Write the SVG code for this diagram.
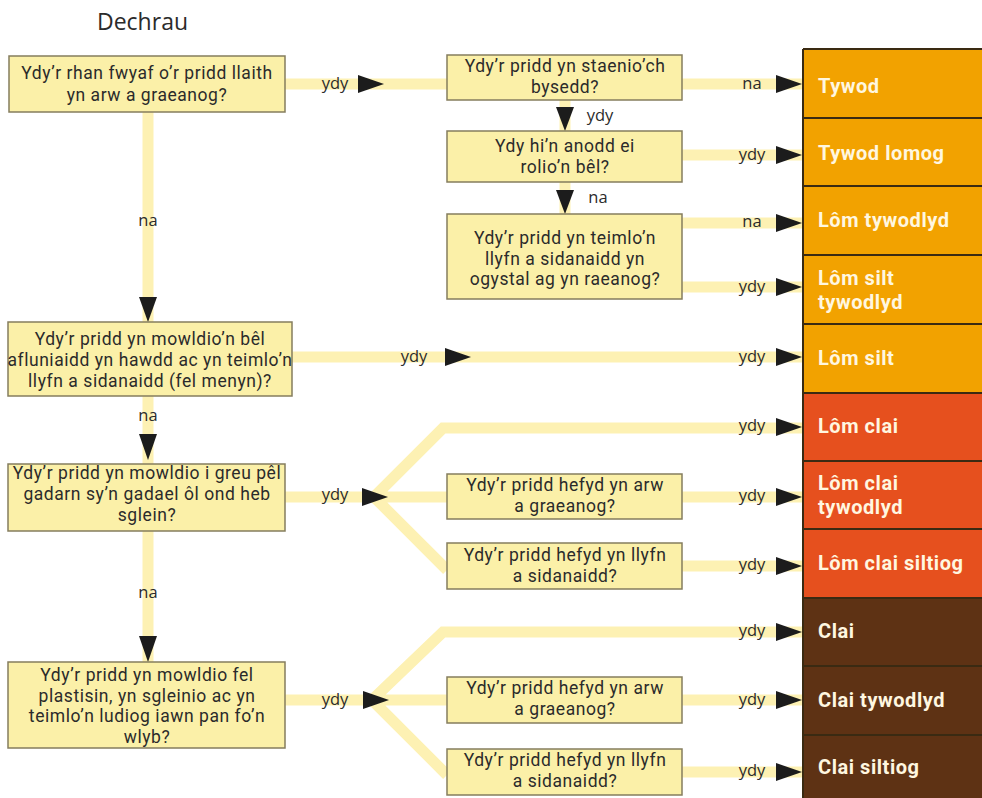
<svg xmlns="http://www.w3.org/2000/svg" width="982" height="798" viewBox="0 0 982 798">
<style>
.box{fill:#fbf0a8;stroke:#857d5e;stroke-width:1.5}
.q{font-family:Roboto,"Open Sans",sans-serif;font-size:17.5px;letter-spacing:0.55px;fill:#2b2b2b;text-anchor:middle}
.lab{font-family:"Open Sans","Noto Sans",sans-serif;font-size:16.5px;fill:#2b2b2b;text-anchor:middle}
.con{fill:none;stroke:#fdf1b3;stroke-width:11;stroke-linejoin:miter}
.arr{fill:#1c1c1c}
.res{font-family:Roboto,"Open Sans",sans-serif;font-size:20px;letter-spacing:0.55px;font-weight:bold;fill:#fff7e0}
.sep{stroke:#3a2a12;stroke-width:2}
</style>
<rect width="982" height="798" fill="#ffffff"/>
<text x="97" y="30" font-family="Open Sans, Noto Sans, sans-serif" font-size="23" fill="#2b2b2b">Dechrau</text>

<g id="connectors">
<path class="con" d="M285,84 H447 M682,84 H803 M565,100 V131 M682,155 H803 M565,182 V214 M682,223 H803 M682,287 H803 M148,112 V322 M292,357 H803 M148,396 V464 M285,497 H447 M374,497 L443,428 H803 M374,497 L447,570 M682,497 H803 M682,566 H803 M148,531 V662 M285,700 H447 M372,700 L443,632 H803 M372,700 L447,775 M682,700 H803 M682,772 H803"/>
<g class="arr">
<polygon points="358,75 384,84 358,93"/>
<polygon points="776,75 802,84 776,93"/>
<polygon points="556,107 574,107 565,131"/>
<polygon points="776,146 802,155 776,164"/>
<polygon points="556,190 574,190 565,214"/>
<polygon points="776,214 802,223 776,232"/>
<polygon points="776,278 802,287 776,296"/>
<polygon points="139,297 157,297 148,322"/>
<polygon points="445,348 471,357 445,366"/>
<polygon points="776,348 802,357 776,366"/>
<polygon points="139,434 157,434 148,460"/>
<polygon points="362,488 388,497 362,506"/>
<polygon points="776,418 802,427 776,436"/>
<polygon points="776,488 802,497 776,506"/>
<polygon points="776,557 802,566 776,575"/>
<polygon points="139,636 157,636 148,662"/>
<polygon points="363,691 389,700 363,709"/>
<polygon points="776,623 802,632 776,641"/>
<polygon points="776,691 802,700 776,709"/>
<polygon points="776,763 802,772 776,781"/>
</g>
<g class="lab">
<text x="335" y="89">ydy</text>
<text x="752" y="89">na</text>
<text x="600" y="121">ydy</text>
<text x="752" y="160">ydy</text>
<text x="598" y="203">na</text>
<text x="752" y="227">na</text>
<text x="752" y="292">ydy</text>
<text x="148" y="226">na</text>
<text x="414" y="362">ydy</text>
<text x="752" y="362">ydy</text>
<text x="148" y="421">na</text>
<text x="335" y="500">ydy</text>
<text x="752" y="431">ydy</text>
<text x="752" y="501">ydy</text>
<text x="752" y="570">ydy</text>
<text x="148" y="598">na</text>
<text x="335" y="705">ydy</text>
<text x="752" y="636">ydy</text>
<text x="752" y="705">ydy</text>
<text x="752" y="776">ydy</text>
</g>
</g>

<g id="q1"><rect class="box" x="9" y="56" width="276" height="56"/><text class="q" x="147" y="79">Ydy’r rhan fwyaf o’r pridd llaith<tspan x="147" dy="22">yn arw a graeanog?</tspan></text></g>
<g id="q2"><rect class="box" x="447" y="55" width="235" height="45"/><text class="q" x="565" y="72">Ydy’r pridd yn staenio’ch<tspan x="565" dy="20.6">bysedd?</tspan></text></g>
<g id="q3"><rect class="box" x="447" y="131" width="235" height="51"/><text class="q" x="565" y="152">Ydy hi’n anodd ei<tspan x="565" dy="20.6">rolio’n bêl?</tspan></text></g>
<g id="q4"><rect class="box" x="447" y="214" width="235" height="85"/><text class="q" x="565" y="244">Ydy’r pridd yn teimlo’n<tspan x="565" dy="20.6">llyfn a sidanaidd yn</tspan><tspan x="565" dy="20.6">ogystal ag yn raeanog?</tspan></text></g>
<g id="q5"><rect class="box" x="8" y="322" width="284" height="74"/><text class="q" x="150" y="345">Ydy’r pridd yn mowldio’n bêl<tspan x="150" dy="21">afluniaidd yn hawdd ac yn teimlo’n</tspan><tspan x="150" dy="21">llyfn a sidanaidd (fel menyn)?</tspan></text></g>
<g id="q6"><rect class="box" x="8" y="464" width="277" height="67"/><text class="q" x="147" y="479">Ydy’r pridd yn mowldio i greu pêl<tspan x="147" dy="21">gadarn sy’n gadael ôl ond heb</tspan><tspan x="147" dy="21">sglein?</tspan></text></g>
<g id="q7"><rect class="box" x="447" y="474" width="235" height="45"/><text class="q" x="565" y="491">Ydy’r pridd hefyd yn arw<tspan x="565" dy="20.6">a graeanog?</tspan></text></g>
<g id="q8"><rect class="box" x="447" y="543" width="235" height="46"/><text class="q" x="565" y="561">Ydy’r pridd hefyd yn llyfn<tspan x="565" dy="20.6">a sidanaidd?</tspan></text></g>
<g id="q9"><rect class="box" x="8" y="662" width="277" height="86"/><text class="q" x="147" y="681">Ydy’r pridd yn mowldio fel<tspan x="147" dy="20.6">plastisin, yn sgleinio ac yn</tspan><tspan x="147" dy="20.6">teimlo’n ludiog iawn pan fo’n</tspan><tspan x="147" dy="20.6">wlyb?</tspan></text></g>
<g id="q10"><rect class="box" x="447" y="677" width="235" height="46"/><text class="q" x="565" y="694">Ydy’r pridd hefyd yn arw<tspan x="565" dy="20.6">a graeanog?</tspan></text></g>
<g id="q11"><rect class="box" x="447" y="749" width="235" height="46"/><text class="q" x="565" y="766">Ydy’r pridd hefyd yn llyfn<tspan x="565" dy="20.6">a sidanaidd?</tspan></text></g>

<g id="results">
<rect x="803" y="49" width="180" height="344" fill="#f2a200"/>
<rect x="803" y="393" width="180" height="205" fill="#e6501e"/>
<rect x="803" y="598" width="180" height="201" fill="#5e3214"/>
<g class="sep">
<line x1="803" y1="49" x2="982" y2="49"/>
<line x1="803" y1="118" x2="982" y2="118"/>
<line x1="803" y1="186" x2="982" y2="186"/>
<line x1="803" y1="255" x2="982" y2="255"/>
<line x1="803" y1="324" x2="982" y2="324"/>
<line x1="803" y1="393" x2="982" y2="393"/>
<line x1="803" y1="461" x2="982" y2="461"/>
<line x1="803" y1="529" x2="982" y2="529"/>
<line x1="803" y1="598" x2="982" y2="598"/>
<line x1="803" y1="666" x2="982" y2="666"/>
<line x1="803" y1="735" x2="982" y2="735"/>
<line x1="803" y1="49" x2="803" y2="798"/>
</g>
<g id="r1"><text class="res" x="818" y="93">Tywod</text></g>
<g id="r2"><text class="res" x="818" y="160">Tywod lomog</text></g>
<g id="r3"><text class="res" x="818" y="227">Lôm tywodlyd</text></g>
<g id="r4"><text class="res" x="818" y="285">Lôm silt<tspan x="818" dy="24">tywodlyd</tspan></text></g>
<g id="r5"><text class="res" x="818" y="365">Lôm silt</text></g>
<g id="r6"><text class="res" x="818" y="433">Lôm clai</text></g>
<g id="r7"><text class="res" x="818" y="490">Lôm clai<tspan x="818" dy="24">tywodlyd</tspan></text></g>
<g id="r8"><text class="res" x="818" y="570">Lôm clai siltiog</text></g>
<g id="r9"><text class="res" x="818" y="638">Clai</text></g>
<g id="r10"><text class="res" x="818" y="707">Clai tywodlyd</text></g>
<g id="r11"><text class="res" x="818" y="774">Clai siltiog</text></g>
</g>
</svg>
